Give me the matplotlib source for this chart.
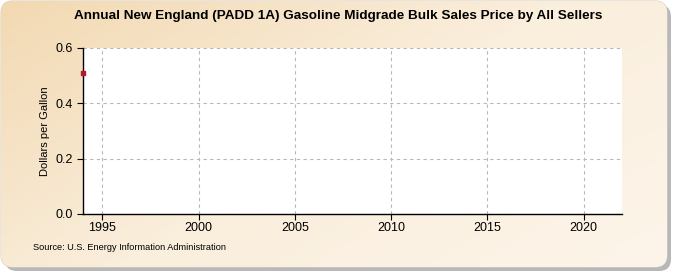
import numpy as np
import matplotlib
matplotlib.use("Agg")
import matplotlib.pyplot as plt
from matplotlib.patches import FancyBboxPatch
from matplotlib.colors import LinearSegmentedColormap

plt.rcParams["font.family"] = ["Liberation Sans", "DejaVu Sans"]

# ── Data ──
years = [1994]
prices = [0.51]
x_ticks = [1995, 2000, 2005, 2010, 2015, 2020]
y_ticks = [0.0, 0.2, 0.4, 0.6]

TITLE = "Annual New England (PADD 1A) Gasoline Midgrade Bulk Sales Price by All Sellers"
Y_LABEL = "Dollars per Gallon"
SOURCE = "Source: U.S. Energy Information Administration"

W, H = 675, 275
fig = plt.figure(figsize=(W / 100, H / 100), dpi=100)
fig.patch.set_facecolor("white")

# ── Background panel: rounded box with shadow and tan gradient ──
bg = fig.add_axes([0, 0, 1, 1])
bg.set_xlim(0, W)
bg.set_ylim(H, 0)
bg.axis("off")

shadow = FancyBboxPatch((5, 5), W - 9, H - 9,
                        boxstyle="round,pad=0,rounding_size=12",
                        fc="#a0a0a0", ec="none", alpha=0.75, zorder=0)
bg.add_patch(shadow)

panel = FancyBboxPatch((1, 1), W - 9, H - 9,
                       boxstyle="round,pad=0,rounding_size=12",
                       fc="#fdf6ec", ec="#d8d0c4", lw=0.8, zorder=1)
bg.add_patch(panel)

grad_cmap = LinearSegmentedColormap.from_list("tan", ["#f2d9b2", "#faeedc", "#fdf5ea"])
yy, xx = np.mgrid[0:1:120j, 0:1:240j]
grad = np.clip(0.6 * xx + 0.4 * yy, 0, 1)
im = bg.imshow(grad, cmap=grad_cmap, extent=[1, W - 8, H - 8, 1],
               aspect="auto", zorder=2, interpolation="bilinear")
im.set_clip_path(panel)

# ── Main plot ──
ax = fig.add_axes([83 / W, 1 - 214 / H, (622 - 83) / W, (214 - 48) / H])
ax.set_facecolor("white")
ax.scatter(years, prices, s=9, marker="s", color="#b01c2e", zorder=3, clip_on=False)

ax.set_xlim(1994, 2022)
ax.set_ylim(0, 0.6)
ax.set_xticks(x_ticks)
ax.set_yticks(y_ticks)
ax.set_yticklabels([f"{v:.1f}" for v in y_ticks])
ax.grid(True, color="#b8b8b8", linestyle=(0, (3, 3)), linewidth=0.8)
ax.set_axisbelow(True)

for side in ("top", "right"):
    ax.spines[side].set_visible(False)
for side in ("left", "bottom"):
    ax.spines[side].set_color("black")
    ax.spines[side].set_linewidth(1.0)

ax.tick_params(axis="both", labelsize=9, colors="black", length=4, width=0.8)
ax.tick_params(axis="x", pad=2)
ax.set_ylabel(Y_LABEL, fontsize=8, labelpad=4)

fig.text(338 / W, 1 - 16 / H, TITLE, ha="center", va="center",
         fontsize=9.7, fontweight="bold")
fig.text(33 / W, 1 - 248 / H, SOURCE, ha="left", va="center", fontsize=6.6)

fig.savefig("out.png", dpi=100)
